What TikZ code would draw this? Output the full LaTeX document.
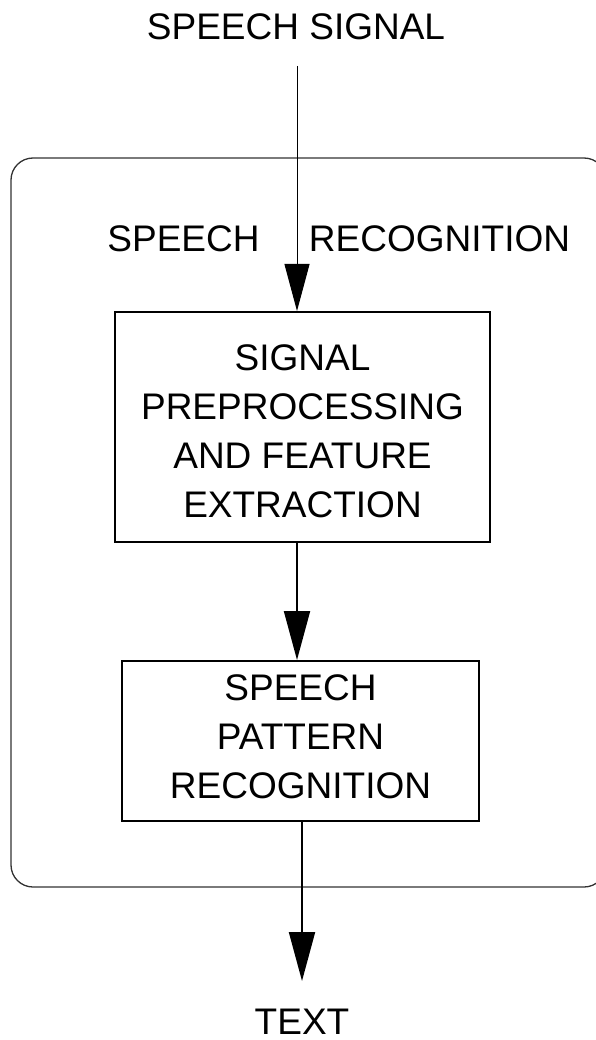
\documentclass[tikz,border=0pt]{standalone}
\usepackage{fontspec}
\setmainfont{Liberation Sans}
\usetikzlibrary{arrows.meta}
\begin{document}
\begin{tikzpicture}[x=1pt,y=-1pt,
  every node/.style={font=\fontsize{37}{49}\selectfont, inner sep=0pt, align=center},
  label text/.style={text height=26.5pt, text depth=0pt},
  stage box/.style={draw=black, line width=2pt, rectangle},
  outer frame/.style={draw=black!80, line width=1.3pt, rounded corners=22pt},
  flow/.style={line width=2pt, -{Triangle[width=26pt,length=49pt]}},
  thin flow/.style={line width=1pt, -{Triangle[width=25pt,length=47pt]}}]
  \useasboundingbox (0,0) rectangle (596,1040);
  \clip (0,0) rectangle (596,1040);

  % enclosing speech recognition system
  \draw[outer frame] (11,158) rectangle (606,887);

  % labels outside the boxes
  \node[label text] (input) at (296,26.5) {SPEECH SIGNAL};
  \node[label text] (sysA) at (183.5,238.5) {SPEECH};
  \node[label text] (sysB) at (439.5,238.5) {RECOGNITION};
  \node[label text] (output) at (302,1021.5) {TEXT};

  % processing stages
  \node[stage box, minimum width=375pt, minimum height=230pt] (fe) at (302.5,427) {};
  \node at ([yshift=-4.3pt]fe.center) (feText) {SIGNAL\\PREPROCESSING\\AND FEATURE\\EXTRACTION};
  \node[stage box, minimum width=357pt, minimum height=160pt] (pr) at (300.5,741) {};
  \node at ([yshift=4.7pt]pr.center) (prText) {SPEECH\\PATTERN\\RECOGNITION};

  % signal flow
  \coordinate (inStart) at (297,66);
  \draw[thin flow] (inStart) -- (inStart |- fe.north);
  \draw[flow] (297,0 |- fe.south) -- (297,0 |- pr.north);
  \coordinate (outEnd) at (302,981);
  \draw[flow] (outEnd |- pr.south) -- (outEnd);
\end{tikzpicture}
\end{document}
